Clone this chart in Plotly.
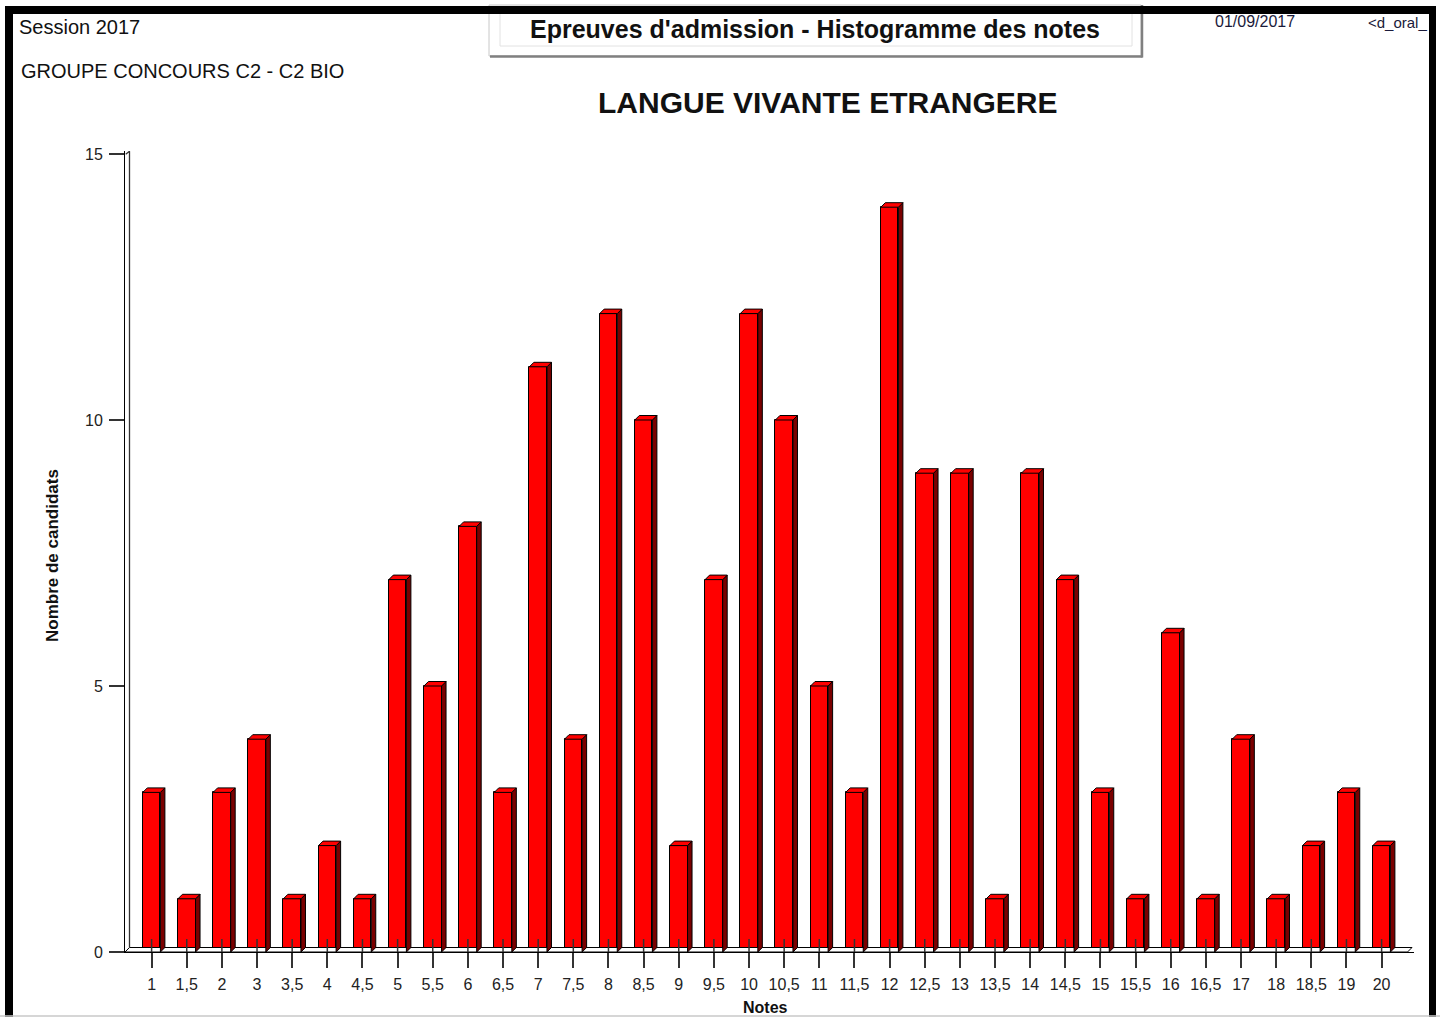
import plotly.graph_objects as go

# ---------------- data ----------------
notes = ["1", "1,5", "2", "3", "3,5", "4", "4,5", "5", "5,5", "6", "6,5", "7", "7,5",
         "8", "8,5", "9", "9,5", "10", "10,5", "11", "11,5", "12", "12,5", "13", "13,5",
         "14", "14,5", "15", "15,5", "16", "16,5", "17", "18", "18,5", "19", "20"]
candidats = [3, 1, 3, 4, 1, 2, 1, 7, 5, 8, 3, 11, 4, 12, 10, 2, 7, 12, 10, 5, 3, 14,
             9, 9, 1, 9, 7, 3, 1, 6, 1, 4, 1, 2, 3, 2]
y_ticks = [0, 5, 10, 15]

# ---------------- layout geometry (pixels) ----------------
W, H = 1440, 1017
L, R, T, B = 125, 1414, 151, 952
X0_PX = 151.6
STEP_PX = (1381.6 - 151.6) / 35
Y_UNIT = (952 - 154) / 15.0
FONT = "Liberation Sans, Arial, sans-serif"

x_range = [(L - X0_PX) / STEP_PX, (R - X0_PX) / STEP_PX]
y_range = [0, (B - T) / Y_UNIT]
DX = 4.5 / STEP_PX
DY = 4.5 / Y_UNIT
BW = 17.6 / STEP_PX


def px_x(p):
    return (p - L) / (R - L)


def px_y(p):
    return (B - p) / (B - T)


idx = list(range(len(notes)))

fig = go.Figure()

# floor
xl = x_range[0]
xf = (1412 - X0_PX) / STEP_PX
fig.add_trace(go.Scatter(
    x=[xl, xl + DX, xf, xf - DX, xl], y=[0, DY, DY, 0, 0],
    mode="lines", fill="toself", fillcolor="white",
    line=dict(color="black", width=1), hoverinfo="skip", showlegend=False))
# back wall line
fig.add_trace(go.Scatter(
    x=[xl + DX, xl + DX, xl + 0.02], y=[DY, y_range[1] - 0.005, y_range[1] - 0.06],
    mode="lines", line=dict(color="#333", width=1.3), hoverinfo="skip", showlegend=False))

# front faces
fig.add_trace(go.Bar(
    x=idx, y=candidats, width=BW,
    marker=dict(color="#ff0000", line=dict(color="black", width=1)),
    hovertemplate="%{text}: %{y}<extra></extra>", text=notes, textposition="none",
    showlegend=False))

# side and top faces
sx, sy, tx, ty = [], [], [], []
for i, v in zip(idx, candidats):
    r_ = i + BW / 2
    l_ = i - BW / 2
    sx += [r_, r_ + DX, r_ + DX, r_, r_, None]
    sy += [0, DY, v + DY, v, 0, None]
    tx += [l_, l_ + DX, r_ + DX, r_, l_, None]
    ty += [v, v + DY, v + DY, v, v, None]
fig.add_trace(go.Scatter(
    x=sx, y=sy, mode="lines", fill="toself", fillcolor="#7a0000",
    line=dict(color="black", width=1), hoverinfo="skip", showlegend=False))
fig.add_trace(go.Scatter(
    x=tx, y=ty, mode="lines", fill="toself", fillcolor="#ff0000",
    line=dict(color="black", width=1), hoverinfo="skip", showlegend=False))

# inner tick parts
kx, ky = [], []
for i in idx:
    kx += [i, i, None]
    ky += [0, 13 / Y_UNIT, None]
fig.add_trace(go.Scatter(
    x=kx, y=ky, mode="lines", line=dict(color="#333", width=1.5),
    hoverinfo="skip", showlegend=False))

shapes = []


def rect(x0, y0, x1, y1, fill=None, line=None, lw=0, layer="above"):
    d = dict(type="rect", xref="paper", yref="paper",
             x0=px_x(x0), x1=px_x(x1), y0=px_y(y0), y1=px_y(y1), layer=layer,
             line=dict(width=lw, color=line or "rgba(0,0,0,0)"))
    if fill:
        d["fillcolor"] = fill
    shapes.append(d)


def seg(x0, y0, x1, y1, color, lw):
    shapes.append(dict(type="line", xref="paper", yref="paper",
                       x0=px_x(x0), x1=px_x(x1), y0=px_y(y0), y1=px_y(y1),
                       line=dict(color=color, width=lw), layer="above"))


# title box
rect(489, 5, 1141, 56, fill="white", line="#c8c8c8", lw=1)
rect(500, 5, 1132, 46, line="#e2e2e2", lw=1)
seg(490, 56.5, 1142.5, 56.5, "#808080", 2.5)
seg(1142, 5, 1142, 57.5, "#808080", 2.5)
# black frame
rect(5, 6, 1436, 14, fill="black")
rect(5, 6, 13, 1017, fill="black")
rect(1429, 6, 1436, 1017, fill="black")
seg(0, 1016, 1440, 1016, "#c8c8c8", 1.5)

ann = []


def text(s, x, y, size, xanchor="left", bold=False, angle=0, color="#111"):
    ann.append(dict(text=("<b>%s</b>" % s) if bold else s, x=px_x(x), y=px_y(y),
                    xref="paper", yref="paper", xanchor=xanchor, yanchor="middle",
                    showarrow=False, textangle=angle,
                    font=dict(family=FONT, size=size, color=color)))


text("Session 2017", 17, 27, 20)
text("GROUPE CONCOURS C2 - C2 BIO", 19, 71, 20)
text("Epreuves d'admission - Histogramme des notes", 815, 29, 25, xanchor="center", bold=True)
text("01/09/2017", 1213, 21, 16, color="#1a1a3a")
text("&lt;d_oral_", 1366, 22, 15, color="#1a1a3a")
text("LANGUE VIVANTE ETRANGERE", 827, 102, 30, xanchor="center", bold=True)
text("Notes", 765, 1007, 16, xanchor="center", bold=True)
text("Nombre de candidats", 52, 556, 17, xanchor="center", bold=True, angle=-90)

fig.update_layout(
    width=W, height=H, autosize=False,
    margin=dict(l=L, r=W - R, t=T, b=H - B, pad=0),
    paper_bgcolor="white", plot_bgcolor="white",
    showlegend=False, bargap=0,
    font=dict(family=FONT, color="#222"),
    shapes=shapes, annotations=ann,
    xaxis=dict(range=x_range, tickvals=idx, ticktext=notes, ticks="outside",
               ticklen=15, tickwidth=1.5, tickcolor="#333", showline=True,
               linecolor="black", linewidth=1, showgrid=False, zeroline=False,
               ticklabelstandoff=3,
               tickfont=dict(family=FONT, size=16, color="#222"), fixedrange=True),
    yaxis=dict(range=y_range, tickvals=y_ticks, ticks="outside", ticklen=15,
               tickwidth=1.5, tickcolor="#333", showline=True, linecolor="black",
               linewidth=1, showgrid=False, zeroline=False,
               ticklabelstandoff=3,
               tickfont=dict(family=FONT, size=16, color="#222"), fixedrange=True),
)

fig.write_html(
    "out.html",
    config={"displayModeBar": False},
    post_script="document.body.style.margin='0';document.body.style.padding='0';"
                "document.body.style.overflow='hidden';",
)
